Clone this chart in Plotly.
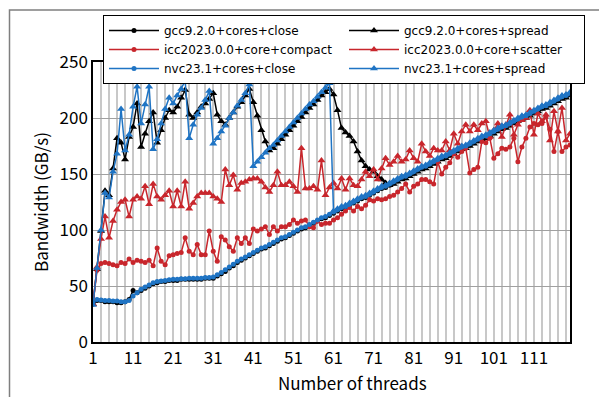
import plotly.graph_objects as go

threads = list(range(1, 121))

gcc_close = [34, 37, 37, 36, 36, 36, 35, 35, 36, 38,
             46, 44, 46, 48, 50, 52, 53, 54, 54, 55,
             55, 55, 56, 56, 56, 56, 56, 56, 57, 57,
             57, 59, 61, 63, 66, 68, 71, 73, 75, 77,
             79, 81, 83, 84, 86, 88, 90, 92, 93, 95,
             97, 99, 101, 102, 104, 106, 108, 110, 111, 113,
             115, 117, 119, 120, 122, 124, 126, 128, 129, 131,
             133, 135, 137, 138, 140, 142, 144, 146, 147, 149,
             151, 153, 155, 156, 158, 160, 162, 164, 165, 167,
             169, 171, 173, 174, 176, 178, 180, 182, 183, 185,
             187, 189, 191, 192, 194, 196, 198, 200, 201, 203,
             205, 207, 209, 210, 212, 214, 216, 218, 219, 221]

gcc_spread = [34, 65, 99, 135, 131, 155, 182, 178, 163, 183,
              192, 213, 174, 186, 197, 205, 178, 189, 200, 207,
              205, 210, 218, 225, 203, 200, 205, 210, 213, 217,
              222, 203, 197, 194, 200, 205, 210, 214, 220, 226,
              214, 202, 189, 179, 171, 173, 177, 181, 185, 189,
              193, 197, 201, 205, 209, 212, 216, 220, 223, 226,
              221, 207, 191, 187, 184, 179, 170, 162, 157, 154,
              152, 148, 145, 142, 140, 141, 143, 145, 146, 148,
              150, 152, 154, 155, 157, 159, 161, 163, 164, 166,
              168, 170, 172, 173, 175, 177, 179, 181, 182, 184,
              186, 188, 190, 191, 193, 195, 197, 199, 200, 202,
              204, 206, 208, 209, 211, 213, 215, 217, 218, 220]

icc_compact = [34, 64, 70, 71, 70, 69, 68, 71, 70, 74,
               71, 73, 72, 71, 73, 68, 84, 72, 69, 77,
               78, 79, 80, 93, 81, 78, 87, 78, 78, 99,
               81, 72, 94, 91, 85, 81, 93, 88, 93, 88,
               101, 99, 101, 103, 96, 103, 99, 103, 103, 105,
               109, 106, 108, 109, 103, 102, 108, 105, 106, 106,
               109, 111, 114, 117, 120, 117, 121, 119, 122, 127,
               126, 128, 127, 128, 130, 131, 134, 137, 141, 134,
               139, 141, 145, 145, 143, 141, 161, 150, 156, 160,
               168, 165, 170, 173, 151, 154, 156, 179, 178, 182,
               164, 168, 173, 172, 174, 182, 161, 174, 182, 192,
               195, 194, 195, 201, 190, 170, 188, 170, 174, 176]

icc_scatter = [34, 67, 92, 112, 93, 108, 118, 125, 127, 112,
               127, 130, 128, 139, 123, 141, 130, 127, 131, 135,
               121, 135, 121, 143, 119, 124, 130, 133, 133, 133,
               130, 128, 125, 154, 140, 149, 136, 142, 143, 145,
               146, 146, 143, 138, 134, 140, 152, 140, 140, 143,
               139, 134, 173, 137, 137, 139, 136, 162, 131, 138,
               142, 137, 146, 136, 146, 140, 139, 145, 152, 148,
               154, 145, 155, 164, 158, 161, 166, 161, 163, 171,
               164, 161, 177, 170, 166, 173, 171, 171, 179, 171,
               186, 177, 188, 194, 188, 194, 189, 195, 197, 183,
               189, 195, 183, 194, 203, 185, 194, 198, 200, 207,
               185, 204, 197, 203, 180, 206, 188, 209, 180, 186]

nvc_close = [35, 38, 37.5, 37, 37, 36.5, 36.5, 36, 36, 37,
             41, 44, 47, 49, 51, 53, 54, 54.5, 55, 55.5,
             56, 56, 56.5, 56.5, 57, 57, 57, 57, 57.5, 57.5,
             58, 60, 62, 64.5, 67, 69.5, 72, 74, 76, 78,
             80, 82, 84, 85, 87, 89, 91, 93, 94, 96,
             98, 100, 102, 103, 105, 107, 109, 111, 112, 114,
             116, 118, 120, 121, 123, 125, 127, 129, 130, 132,
             134, 136, 138, 139, 141, 143, 145, 147, 148, 150,
             152, 154, 156, 157, 159, 161, 163, 165, 166, 168,
             170, 172, 174, 175, 177, 179, 181, 183, 184, 186,
             188, 190, 192, 193, 195, 197, 199, 201, 202, 204,
             206, 208, 210, 211, 213, 215, 217, 219, 220, 222]

nvc_spread = [33, 66, 100, 133, 129, 152, 168, 208, 171, 185,
              210, 228, 195, 212, 228, 172, 181, 195, 208, 218,
              213, 220, 226, 233, 182, 194, 203, 209, 216, 224,
              177, 182, 188, 193, 200, 205, 211, 216, 222, 230,
              157, 161, 165, 169, 173, 176, 180, 184, 188, 192,
              196, 200, 204, 208, 212, 215, 219, 223, 227, 231,
              117, 119, 121, 122, 124, 126, 128, 130, 131, 133,
              135, 137, 139, 140, 142, 144, 146, 148, 149, 151,
              153, 155, 157, 158, 160, 162, 164, 166, 167, 169,
              171, 173, 175, 176, 178, 180, 182, 184, 185, 187,
              189, 191, 193, 194, 196, 198, 200, 202, 203, 205,
              207, 209, 211, 212, 214, 216, 218, 220, 221, 223]

grid_ticks = list(range(1, 121, 2))
label_ticks = [1, 11, 21, 31, 41, 51, 61, 71, 81, 91, 101, 111]
y_ticks = [0, 50, 100, 150, 200, 250]

BLACK = "#000000"
RED = "#C8262C"
BLUE = "#1F74C4"
FONT = "Noto Sans CJK JP"
LEGEND_FONT = "DejaVu Sans"

series = [
    ("gcc9.2.0+cores+close", gcc_close, BLACK, "circle"),
    ("gcc9.2.0+cores+spread", gcc_spread, BLACK, "triangle-up"),
    ("icc2023.0.0+core+compact", icc_compact, RED, "circle"),
    ("icc2023.0.0+core+scatter", icc_scatter, RED, "triangle-up"),
    ("nvc23.1+cores+close", nvc_close, BLUE, "circle"),
    ("nvc23.1+cores+spread", nvc_spread, BLUE, "triangle-up"),
]

fig = go.Figure()
for name, vals, color, sym in series:
    fig.add_trace(go.Scatter(
        x=threads, y=vals, name=name, mode="lines+markers",
        line=dict(color=color, width=1.5),
        marker=dict(symbol=sym, color=color, size=5 if sym == "circle" else 7,
                    line=dict(width=0)),
    ))

L, R, T, B = 93, 29, 62, 55
W, H = 599, 397
pw = W - L - R
ph = H - T - B

def px_x(p):
    return (p - L) / pw

def px_y(p):
    return (H - B - p) / ph

fig.update_layout(
    width=W, height=H,
    margin=dict(l=L, r=R, t=T, b=B, pad=0),
    paper_bgcolor="white", plot_bgcolor="white",
    font=dict(family=FONT, color="#000000", size=17),
    showlegend=True,
    legend=dict(
        orientation="h", x=px_x(103), y=px_y(15), xanchor="left", yanchor="top",
        bgcolor="white", bordercolor="#000000", borderwidth=1,
        font=dict(family=LEGEND_FONT, size=12, color="#000000"),
        itemwidth=50, entrywidth=175, tracegroupgap=0,
        traceorder="normal",
    ),
    xaxis=dict(
        range=[1, 120], tickmode="array", tickvals=grid_ticks,
        ticktext=[str(v) if v in label_ticks else "" for v in grid_ticks],
        showgrid=True, gridcolor="#c8c8c8", gridwidth=1.5,
        showline=True, linecolor="#000000", linewidth=1.5, mirror=True,
        ticks="", zeroline=False,
        tickfont=dict(family=FONT, size=17),
    ),
    yaxis=dict(
        range=[0, 250], tickmode="array", tickvals=y_ticks,
        showgrid=True, gridcolor="#a0a0a0", gridwidth=1,
        showline=True, linecolor="#000000", linewidth=1.5, mirror=True,
        ticks="", zeroline=False,
        tickfont=dict(family=FONT, size=17),
        title=dict(text="Bandwidth (GB/s)", font=dict(family=FONT, size=17), standoff=7),
    ),
    annotations=[dict(text="Number of threads", xref="paper", yref="paper",
                      x=px_x(352), y=px_y(382), xanchor="center", yanchor="middle",
                      showarrow=False, font=dict(family=FONT, size=17, color="#000000"))],
    shapes=[dict(type="rect", xref="paper", yref="paper",
                 x0=px_x(9.5), x1=px_x(620), y0=px_y(420), y1=px_y(10),
                 line=dict(color="#7f7f7f", width=1.5), fillcolor="rgba(0,0,0,0)",
                 layer="below")],
)

fig.write_html("out.html")
